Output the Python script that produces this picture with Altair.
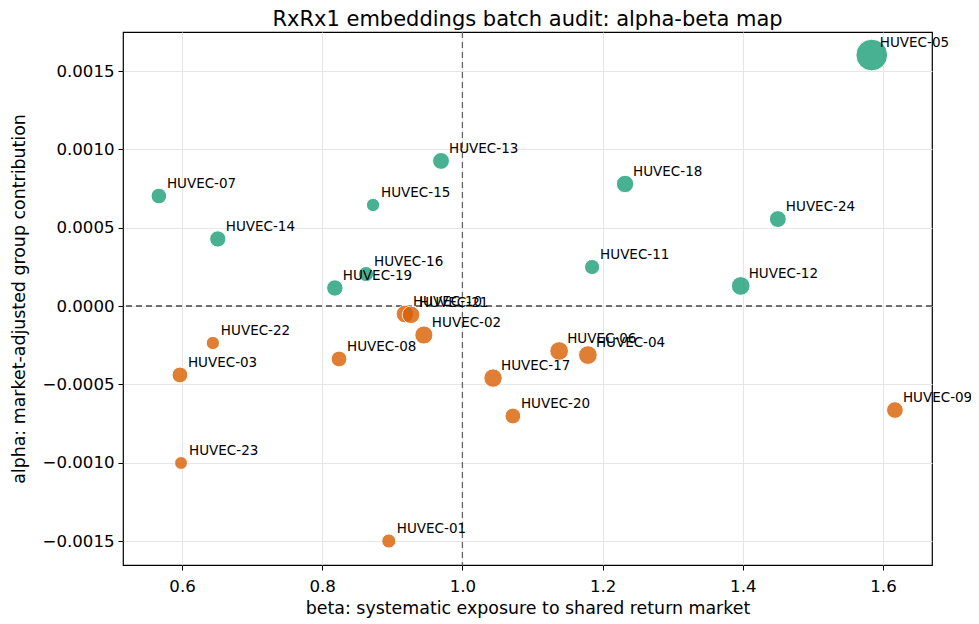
import altair as alt
import pandas as pd

names = ["HUVEC-01", "HUVEC-02", "HUVEC-03", "HUVEC-04", "HUVEC-05", "HUVEC-06",
         "HUVEC-07", "HUVEC-08", "HUVEC-09", "HUVEC-10", "HUVEC-11", "HUVEC-12",
         "HUVEC-13", "HUVEC-14", "HUVEC-15", "HUVEC-16", "HUVEC-17", "HUVEC-18",
         "HUVEC-19", "HUVEC-20", "HUVEC-21", "HUVEC-22", "HUVEC-23", "HUVEC-24"]
beta = [0.895, 0.945, 0.597, 1.179, 1.584, 1.138,
        0.567, 0.824, 1.617, 0.918, 1.185, 1.397,
        0.9695, 0.651, 0.8725, 0.8625, 1.0437, 1.232,
        0.818, 1.072, 0.9267, 0.644, 0.5986, 1.450]
alpha = [-0.00150, -0.000185, -0.00044, -0.000313, 0.001602, -0.000287,
         0.000702, -0.000338, -0.000664, -0.000051, 0.000249, 0.000128,
         0.000926, 0.000428, 0.000645, 0.000204, -0.00046, 0.000779,
         0.000115, -0.000702, -0.000056, -0.000236, -0.001002, 0.000555]
marker_area = [200, 330, 250, 350, 1010, 350,
               245, 250, 280, 310, 230, 350,
               285, 265, 175, 230, 340, 305,
               270, 250, 310, 175, 165, 285]

df = pd.DataFrame({"name": names, "beta": beta, "alpha": alpha, "area": marker_area})
df["group"] = ["pos" if a > 0 else "neg" for a in alpha]

xs = alt.Scale(domain=[0.5158, 1.6699], nice=False, zero=False)
ys = alt.Scale(domain=[-0.001653, 0.001749], nice=False, zero=False)

base = alt.Chart(df)

xaxis = alt.Axis(values=[0.6, 0.8, 1.0, 1.2, 1.4, 1.6], format=".1f",
                 title="beta: systematic exposure to shared return market",
                 labelPadding=8, titlePadding=5)
yaxis = alt.Axis(values=[-0.0015, -0.001, -0.0005, 0, 0.0005, 0.001, 0.0015], format=".4f",
                 title="alpha: market-adjusted group contribution",
                 labelPadding=4, titlePadding=14)

points = base.mark_circle(opacity=0.8, stroke="white", strokeWidth=1).encode(
    x=alt.X("beta:Q", scale=xs, axis=xaxis),
    y=alt.Y("alpha:Q", scale=ys, axis=yaxis),
    size=alt.Size("area:Q", scale=None, legend=None),
    color=alt.Color("group:N", scale=alt.Scale(domain=["pos", "neg"], range=["#1b9e77", "#d95f02"]), legend=None),
)

labels = base.mark_text(align="left", baseline="middle", dx=8, dy=-12, fontSize=13.5,
                        font="DejaVu Sans", color="black").encode(
    x=alt.X("beta:Q", scale=xs),
    y=alt.Y("alpha:Q", scale=ys),
    text="name:N",
)

vline = alt.Chart(pd.DataFrame({"v": [1.0]})).mark_rule(
    strokeDash=[6, 4], color="#666666", strokeWidth=1.3).encode(x=alt.X("v:Q", scale=xs))
hline = alt.Chart(pd.DataFrame({"h": [0.0]})).mark_rule(
    strokeDash=[6, 4], color="#444444", strokeWidth=1.3).encode(y=alt.Y("h:Q", scale=ys))

chart = alt.layer(vline, hline, points, labels).properties(
    width=809, height=533,
    title=alt.TitleParams("RxRx1 embeddings batch audit: alpha-beta map", fontSize=21,
                          font="DejaVu Sans", fontWeight="normal", color="black", offset=6, dy=5),
    autosize=alt.AutoSizeParams(type="none"),
    padding={"left": 115, "top": 24, "right": 39, "bottom": 53},
).configure_view(stroke="black", strokeWidth=1.2).configure_axis(
    grid=True, gridColor="#e6e6e6", gridWidth=1,
    domain=False, tickColor="black", tickSize=5, tickWidth=1,
    labelFont="DejaVu Sans", labelFontSize=16.6, labelColor="black",
    titleFont="DejaVu Sans", titleFontSize=17.4, titleFontWeight="normal", titleColor="black",
)

chart.save("out.html", embed_options={"renderer": "svg", "actions": False})
